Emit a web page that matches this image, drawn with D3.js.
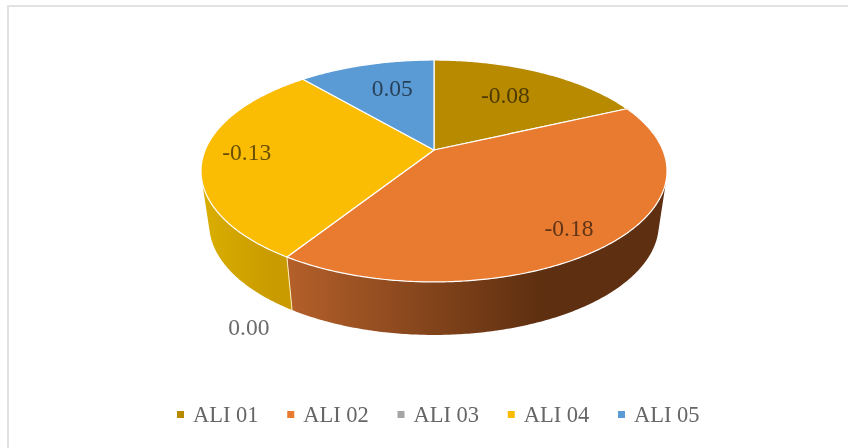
<!DOCTYPE html>
<html>
<head>
<meta charset="utf-8">
<script src="https://cdn.jsdelivr.net/npm/d3@7"></script>
<style>
	html, body { margin: 0; padding: 0; background: #fff; }
	svg { display: block; }
	text { font-family: "Liberation Serif", serif; }
	.sliceLabel { mix-blend-mode: multiply; }
</style>
</head>
<body>
<svg id="chart" width="848" height="448"></svg>
<script>
var categories = ["ALI 01", "ALI 02", "ALI 03", "ALI 04", "ALI 05"];
var values = [-0.08, -0.18, 0.00, -0.13, 0.05];
var colors = ["#B88A00", "#E97B31", "#A5A5A5", "#FBBC04", "#5B9BD5"];
var wallColors = [null, ["#B8622B", "#5E2F10"], null, ["#D9AD00", "#C99B00"], null];

// label placement as a fraction of the radius, plus a small nudge
var labelRadius = [0.65, 0.85, 1, 0.82, 0.7];
var labelNudge = [[-1.5, -2], [-10, 0], [-38, 70], [2, -5], [8, 0]];

var width = 848, height = 448;
var svg = d3.select("#chart");

// tilted disc, the back of the pie is further away than the front
var apexX = 434, apexY = 150;
var radiusX = 228.8, radiusY = 107, tilt = 0.189;
var wallDrop = 53, wallScale = 0.965;

function project(angle, r, drop, scale) {
	var u = r * Math.sin(angle), v = r * Math.cos(angle), w = 1 + tilt * v;
	return [apexX + scale * radiusX * u / w, apexY + drop - radiusY * v / w];
}

function rim(a0, a1, drop, scale) {
	var n = Math.max(2, Math.ceil((a1 - a0) / 0.01));
	return d3.range(n + 1).map(function (i) {
		return project(a0 + (a1 - a0) * i / n, 1, drop, scale);
	});
}

var line = d3.line();
var slices = d3.pie().sort(null).value(function (d) { return Math.abs(d); })(values);

var defs = svg.append("defs");
wallColors.forEach(function (c, i) {
	if (!c) return;
	var grad = defs.append("linearGradient")
		.attr("id", "wall" + i)
		.attr("gradientUnits", "userSpaceOnUse")
		.attr("x1", i == 1 ? 275 : 205).attr("x2", i == 1 ? 540 : 275)
		.attr("y1", 0).attr("y2", 0);
	grad.append("stop").attr("offset", 0).attr("stop-color", c[0]);
	grad.append("stop").attr("offset", 1).attr("stop-color", c[1]);
});

// frame, only the top and left edges show
svg.append("rect").attr("x", 7).attr("y", 5).attr("width", width - 7).attr("height", 2).attr("fill", "#e2e2e2");
svg.append("rect").attr("x", 7).attr("y", 5).attr("width", 2).attr("height", height - 5).attr("fill", "#e2e2e2");

// side walls, swept as small quads so the silhouette stays tangent to both rims
slices.forEach(function (s, i) {
	if (!wallColors[i] || s.startAngle == s.endAngle) return;
	var top = rim(s.startAngle, s.endAngle, 0, 1);
	var bottom = rim(s.startAngle, s.endAngle, wallDrop, wallScale);
	var d = "";
	for (var k = 0; k < top.length - 1; k++) {
		var quad = [top[k], top[k + 1], bottom[k + 1], bottom[k]];
		if (d3.polygonArea(quad) < 0) quad.reverse();
		d += line(quad) + "Z";
	}
	svg.append("path")
		.attr("d", d)
		.attr("fill", "url(#wall" + i + ")");
});

// seam between the yellow and orange walls
var seam = slices[3].startAngle;
svg.append("path")
	.attr("d", line([project(seam, 1, 0, 1), project(seam, 1, wallDrop, wallScale)]))
	.attr("stroke", "#fbeebb").attr("stroke-width", 1).attr("fill", "none");

// top faces
slices.forEach(function (s, i) {
	if (s.startAngle == s.endAngle) return;
	var pts = [[apexX, apexY]].concat(rim(s.startAngle, s.endAngle, 0, 1));
	svg.append("path")
		.attr("d", line(pts) + "Z")
		.attr("fill", colors[i])
		.attr("stroke", "#fff")
		.attr("stroke-width", 1.2)
		.attr("stroke-linejoin", "round");
});

// value labels
slices.forEach(function (s, i) {
	var mid = (s.startAngle + s.endAngle) / 2;
	var p = project(mid, labelRadius[i], 0, 1);
	svg.append("text")
		.attr("class", "sliceLabel")
		.attr("x", p[0] + labelNudge[i][0])
		.attr("y", p[1] + labelNudge[i][1])
		.attr("dy", "0.35em")
		.attr("text-anchor", "middle")
		.attr("font-size", 23.5)
		.attr("fill", "#6a6a6a")
		.text(values[i].toFixed(2));
});

// legend
var legendX = d3.scalePoint().domain(categories).range([177, 618]);
var legend = svg.selectAll("g.legendItem").data(categories).enter().append("g")
	.attr("class", "legendItem")
	.attr("transform", function (d) { return "translate(" + legendX(d) + ",0)"; });
legend.append("rect")
	.attr("y", 411).attr("width", 7).attr("height", 7)
	.attr("fill", function (d, i) { return colors[i]; });
legend.append("text")
	.attr("x", 16).attr("y", 422)
	.attr("font-size", 22.5)
	.attr("fill", "#666")
	.text(function (d) { return d; });
</script>
</body>
</html>
